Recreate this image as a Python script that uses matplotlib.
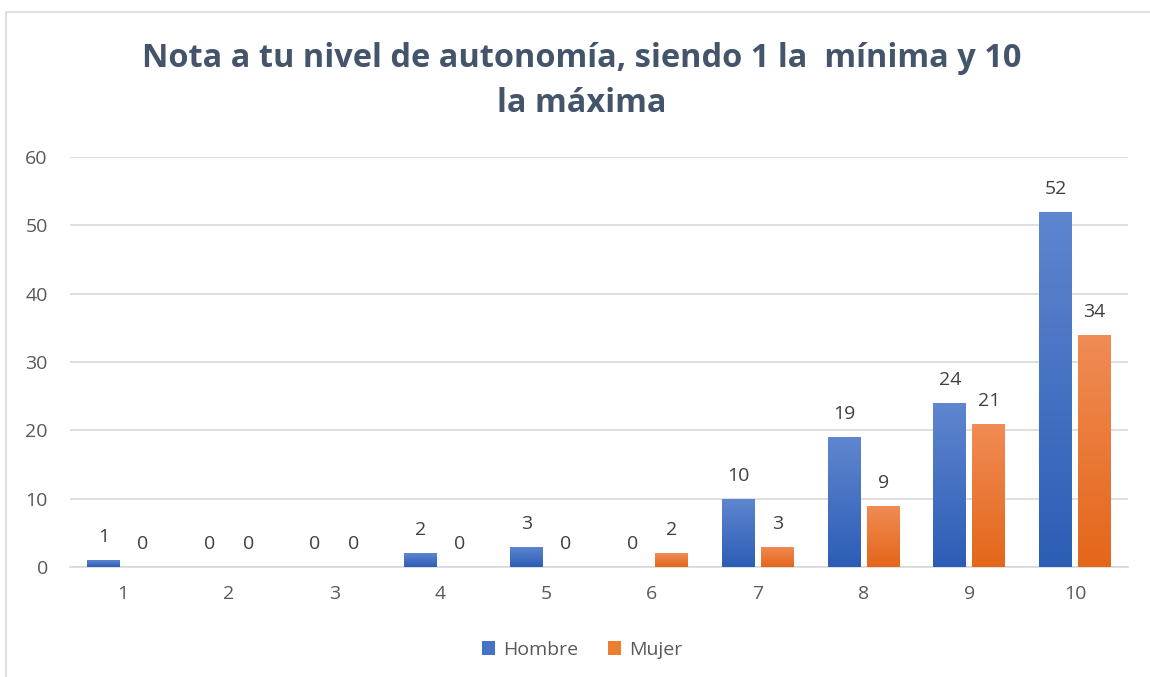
import matplotlib
matplotlib.use("Agg")
import matplotlib.pyplot as plt
import numpy as np
from matplotlib.patches import Rectangle
from matplotlib.colors import LinearSegmentedColormap

categories = ["1", "2", "3", "4", "5", "6", "7", "8", "9", "10"]
hombre = [1, 0, 0, 2, 3, 0, 10, 19, 24, 52]
mujer = [0, 0, 0, 0, 0, 2, 3, 9, 21, 34]
yticks = [0, 10, 20, 30, 40, 50, 60]
title = "Nota a tu nivel de autonomía, siendo 1 la  mínima y 10\nla máxima"

plt.rcParams['font.family'] = ['Open Sans', 'DejaVu Sans']

fig = plt.figure(figsize=(11.5, 6.77), dpi=100)
fig.patches.append(Rectangle((6/1150, -0.05), 1.1, 1 - 12/677 + 0.05, transform=fig.transFigure,
                             fill=False, edgecolor='#D9D9D9', linewidth=1.2))

ax = fig.add_axes([70/1150, 1 - 567/677, (1128-70)/1150, (567-157)/677])
x = np.arange(len(categories))
w = 0.31
off = 0.185

blue_cmap = LinearSegmentedColormap.from_list("b", ["#2C5DB6", "#5F86CF"])
orange_cmap = LinearSegmentedColormap.from_list("o", ["#E4661A", "#F08C55"])
grad = np.linspace(0, 1, 256).reshape(-1, 1)

def draw(vals, dx, cmap, edge, label):
    bars = ax.bar(x + dx, vals, width=w, color=edge, label=label, zorder=3)
    for b, v in zip(bars, vals):
        if v > 0:
            im = ax.imshow(grad, cmap=cmap, origin='lower', aspect='auto', zorder=3.5,
                           extent=[b.get_x(), b.get_x() + b.get_width(), 0, v])
            im.set_clip_path(b)
        ax.annotate(f"{v}", (b.get_x() + b.get_width()/2, v), xytext=(0, 10),
                    textcoords='offset points', ha='center', va='bottom',
                    fontsize=14, color='#404040')
    return bars

draw(hombre, -off, blue_cmap, '#4472C4', 'Hombre')
draw(mujer, off, orange_cmap, '#ED7D31', 'Mujer')

ax.set_xlim(-0.5, len(categories) - 0.5)
ax.set_ylim(0, 60)
ax.set_yticks(yticks)
ax.set_xticks(x)
ax.set_xticklabels(categories)
ax.tick_params(axis='both', length=0, labelsize=14, labelcolor='#595959')
ax.tick_params(axis='x', pad=13)
ax.tick_params(axis='y', pad=16)
ax.grid(axis='y', color='#D9D9D9', linewidth=1.2, zorder=0)
for s in ['top', 'right', 'left']:
    ax.spines[s].set_visible(False)
ax.spines['bottom'].set_color('#D9D9D9')
ax.spines['bottom'].set_linewidth(1.2)
ax.set_facecolor('none')

fig.text(582/1150, 1 - 81/677, title, ha='center', va='center', fontsize=23.4,
         fontweight='bold', color='#44546A', linespacing=1.45)

leg = fig.legend(loc='center', bbox_to_anchor=(582/1150, 1 - 650/677), ncol=2, frameon=False,
                 fontsize=14, handlelength=0.7, handleheight=0.7, handletextpad=0.4,
                 columnspacing=1.5, labelcolor='#595959')

fig.savefig("out.png", dpi=100)
